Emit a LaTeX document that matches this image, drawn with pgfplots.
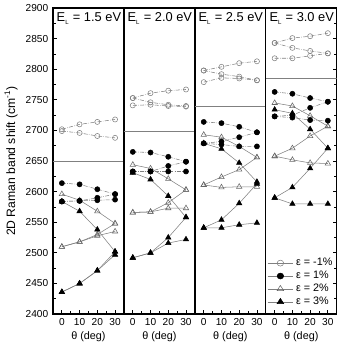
\documentclass[border=0pt]{standalone}
\usepackage{fontspec}
\setmainfont{Liberation Sans}
\usepackage{pgfplots}
\pgfplotsset{compat=1.18}
\usepgfplotslibrary{groupplots}
\pgfplotsset{
  oc/.style={gray, thin, densely dashdotted, forget plot, mark=o, mark size=1.9pt, mark options={solid, draw=gray, fill=white}},
  fc/.style={gray, thin, densely dashdotted, forget plot, mark=*, mark size=1.9pt, mark options={solid, draw=black, fill=black}},
  ot/.style={gray, thin, forget plot, mark=triangle, mark size=2.3pt, mark options={solid, draw=gray!80!black, fill=white}},
  ft/.style={gray, thin, forget plot, mark=triangle*, mark size=2.3pt, mark options={solid, draw=black, fill=black}},
  hl/.style={gray, line width=0.6pt, forget plot},
}
\newcommand{\EL}[1]{E\textsubscript{\raisebox{-0.4ex}{\fontsize{4.5}{5}\selectfont L}} = #1 eV}
\begin{document}
\begin{tikzpicture}
\begin{groupplot}[
  group style={group size=4 by 1, horizontal sep=0pt},
  scale only axis, width=52.5pt, height=226.5pt,
  xmin=-5, xmax=35, ymin=2400, ymax=2900,
  xtick={0,10,20,30}, minor x tick num=1, xtick pos=bottom,
  ytick={2400,2450,...,2900}, minor y tick num=1,
  tick align=inside, major tick length=3pt, minor tick length=2pt,
  axis line style={line width=1pt}, tick style={line width=0.6pt, black},
  xlabel={θ (deg)},
  ticklabel style={font=\fontsize{7.5}{8}\selectfont},
  /pgf/number format/assume math mode=true,
  /pgf/number format/1000 sep={},
  label style={font=\fontsize{8}{9}\selectfont},
  xlabel style={yshift=3pt},
]
% ---------------- 1.5 eV
\nextgroupplot[ytick pos=left, ylabel={2D Raman band shift (cm\textsuperscript{-1})}, ylabel style={font=\fontsize{9}{10}\selectfont, yshift=-1pt}]
\addplot[hl] coordinates {(-5,2650) (35,2650)};
\addplot[ot] coordinates {(0,2596)(10,2586)(20,2568)(30,2548)};
\addplot[ot] coordinates {(0,2510)(10,2518)(20,2530)(30,2548)};
\addplot[ot] coordinates {(0,2510)(10,2518)(20,2528)(30,2535)};
\addplot[ft] coordinates {(0,2584)(10,2568)(20,2538)(30,2502)};
\addplot[ft] coordinates {(0,2436)(10,2450)(20,2471)(30,2502)};
\addplot[ft] coordinates {(0,2436)(10,2450)(20,2471)(30,2497)};
\addplot[fc] coordinates {(0,2614)(10,2612)(20,2604)(30,2596)};
\addplot[fc] coordinates {(0,2584)(10,2585)(20,2590)(30,2596)};
\addplot[fc] coordinates {(0,2584)(10,2585)(20,2586)(30,2587)};
\addplot[oc] coordinates {(0,2702)(10,2710)(20,2714)(30,2718)};
\addplot[oc] coordinates {(0,2699)(10,2696)(20,2691)(30,2688)};
\node[anchor=north west, font=\fontsize{9.5}{10}\selectfont, inner sep=1pt] at (rel axis cs:0.03,0.99) {\EL{1.5}};
% ---------------- 2.0 eV
\nextgroupplot[ytick=\empty]
\addplot[hl] coordinates {(-5,2698) (35,2698)};
\addplot[ot] coordinates {(0,2644)(10,2638)(20,2621)(30,2603)};
\addplot[ot] coordinates {(0,2566)(10,2567)(20,2582)(30,2603)};
\addplot[ot] coordinates {(0,2566)(10,2567)(20,2573)(30,2573)};
\addplot[ft] coordinates {(0,2631)(10,2620)(20,2593)(30,2558)};
\addplot[ft] coordinates {(0,2492)(10,2500)(20,2525)(30,2558)};
\addplot[ft] coordinates {(0,2492)(10,2500)(20,2516)(30,2522)};
\addplot[fc] coordinates {(0,2665)(10,2664)(20,2657)(30,2649)};
\addplot[fc] coordinates {(0,2633)(10,2633)(20,2642)(30,2649)};
\addplot[fc] coordinates {(0,2633)(10,2633)(20,2633)(30,2633)};
\addplot[oc] coordinates {(0,2753)(10,2761)(20,2765)(30,2767)};
\addplot[oc] coordinates {(0,2753)(10,2746)(20,2742)(30,2740)};
\addplot[oc] coordinates {(0,2741)(10,2742)(20,2740)(30,2739)};
\node[anchor=north west, font=\fontsize{9.5}{10}\selectfont, inner sep=1pt] at (rel axis cs:0.03,0.99) {\EL{2.0}};
% ---------------- 2.5 eV
\nextgroupplot[ytick=\empty]
\addplot[hl] coordinates {(-5,2740) (35,2740)};
\addplot[ot] coordinates {(0,2693)(10,2689)(20,2674)(30,2656)};
\addplot[ot] coordinates {(0,2611)(10,2624)(20,2636)(30,2656)};
\addplot[ot] coordinates {(0,2611)(10,2607)(20,2608)(30,2608)};
\addplot[ft] coordinates {(0,2679)(10,2670)(20,2647)(30,2616)};
\addplot[ft] coordinates {(0,2541)(10,2554)(20,2581)(30,2613)};
\addplot[ft] coordinates {(0,2541)(10,2541)(20,2546)(30,2549)};
\addplot[fc] coordinates {(0,2714)(10,2712)(20,2706)(30,2697)};
\addplot[fc] coordinates {(0,2679)(10,2682)(20,2689)(30,2697)};
\addplot[fc] coordinates {(0,2679)(10,2677)(20,2674)(30,2674)};
\addplot[oc] coordinates {(0,2798)(10,2804)(20,2810)(30,2813)};
\addplot[oc] coordinates {(0,2798)(10,2792)(20,2788)(30,2782)};
\addplot[oc] coordinates {(0,2779)(10,2786)(20,2785)(30,2782)};
\node[anchor=north west, font=\fontsize{9.5}{10}\selectfont, inner sep=1pt] at (rel axis cs:0.03,0.99) {\EL{2.5}};
% ---------------- 3.0 eV
\nextgroupplot[ytick pos=right, yticklabels={},
  legend style={draw=none, fill=none, at={(rel axis cs:1,0.01)}, anchor=south east,
    font=\fontsize{8}{8.5}\selectfont, row sep=-1.5pt, inner sep=1pt},
  legend image post style={xscale=1.1},
  legend cell align=left]
\addlegendimage{gray, thin, mark=o, mark size=2.2pt, mark options={draw=gray, fill=white}}
\addlegendentry{ε = -1\%}
\addlegendimage{gray, thin, mark=*, mark size=2.2pt, mark options={draw=black, fill=black}}
\addlegendentry{ε = 1\%}
\addlegendimage{gray, thin, mark=triangle, mark size=2.6pt, mark options={draw=gray!80!black, fill=white}}
\addlegendentry{ε = 2\%}
\addlegendimage{gray, thin, mark=triangle*, mark size=2.6pt, mark options={draw=black, fill=black}}
\addlegendentry{ε = 3\%}
\addplot[hl] coordinates {(-5,2785) (35,2785)};
\addplot[ot] coordinates {(0,2745)(10,2740)(20,2724)(30,2707)};
\addplot[ot] coordinates {(0,2658)(10,2671)(20,2691)(30,2707)};
\addplot[ot] coordinates {(0,2658)(10,2652)(20,2647)(30,2646)};
\addplot[ft] coordinates {(0,2734)(10,2728)(20,2702)(30,2671)};
\addplot[ft] coordinates {(0,2590)(10,2607)(20,2638)(30,2671)};
\addplot[ft] coordinates {(0,2590)(10,2580)(20,2580)(30,2580)};
\addplot[fc] coordinates {(0,2763)(10,2760)(20,2753)(30,2747)};
\addplot[fc] coordinates {(0,2723)(10,2725)(20,2737)(30,2747)};
\addplot[fc] coordinates {(0,2723)(10,2721)(20,2717)(30,2716)};
\addplot[oc] coordinates {(0,2843)(10,2851)(20,2854)(30,2859)};
\addplot[oc] coordinates {(0,2843)(10,2835)(20,2830)(30,2826)};
\addplot[oc] coordinates {(0,2818)(10,2818)(20,2822)(30,2826)};
\node[anchor=north west, font=\fontsize{9.5}{10}\selectfont, inner sep=1pt] at (rel axis cs:0.03,0.99) {\EL{3.0}};
\end{groupplot}
\end{tikzpicture}
\end{document}
